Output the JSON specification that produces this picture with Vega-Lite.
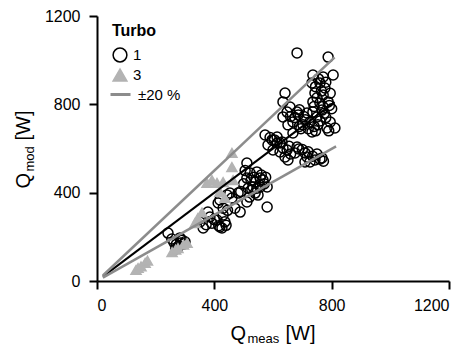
{
  "$schema": "https://vega.github.io/schema/vega-lite/v6.json",
  "width": 352,
  "height": 265,
  "autosize": {"type": "none"},
  "padding": {"left": 97, "top": 16, "right": 20, "bottom": 67},
  "background": "white",
  "config": {
    "view": {"stroke": null},
    "font": "Liberation Sans",
    "axis": {
      "grid": false,
      "domainColor": "black",
      "domainWidth": 2,
      "tickColor": "black",
      "tickWidth": 2,
      "tickSize": 8,
      "labelFont": "Liberation Sans",
      "labelFontSize": 16,
      "labelColor": "black",
      "titleFont": "Liberation Sans",
      "titleColor": "black",
      "titleFontWeight": "normal"
    },
    "legend": {
      "padding": 0,
      "labelFont": "Liberation Sans",
      "labelFontSize": 15,
      "labelColor": "black",
      "titleFont": "Liberation Sans",
      "titleColor": "black"
    }
  },
  "datasets": {
    "obs": [
      {"Turbo": "1", "Qmeas": 242, "Qmod": 217}, {"Turbo": "1", "Qmeas": 255, "Qmod": 190}, {"Turbo": "1", "Qmeas": 262, "Qmod": 175},
      {"Turbo": "1", "Qmeas": 270, "Qmod": 165}, {"Turbo": "1", "Qmeas": 275, "Qmod": 150}, {"Turbo": "1", "Qmeas": 280, "Qmod": 160},
      {"Turbo": "1", "Qmeas": 285, "Qmod": 172}, {"Turbo": "1", "Qmeas": 290, "Qmod": 185}, {"Turbo": "1", "Qmeas": 296, "Qmod": 168},
      {"Turbo": "1", "Qmeas": 268, "Qmod": 145}, {"Turbo": "1", "Qmeas": 283, "Qmod": 195}, {"Turbo": "1", "Qmeas": 300, "Qmod": 178},
      {"Turbo": "1", "Qmeas": 351, "Qmod": 267}, {"Turbo": "1", "Qmeas": 362, "Qmod": 240}, {"Turbo": "1", "Qmeas": 372, "Qmod": 255},
      {"Turbo": "1", "Qmeas": 378, "Qmod": 312}, {"Turbo": "1", "Qmeas": 385, "Qmod": 290}, {"Turbo": "1", "Qmeas": 392, "Qmod": 262},
      {"Turbo": "1", "Qmeas": 400, "Qmod": 278}, {"Turbo": "1", "Qmeas": 409, "Qmod": 276}, {"Turbo": "1", "Qmeas": 415, "Qmod": 250},
      {"Turbo": "1", "Qmeas": 419, "Qmod": 245}, {"Turbo": "1", "Qmeas": 426, "Qmod": 240}, {"Turbo": "1", "Qmeas": 430, "Qmod": 299},
      {"Turbo": "1", "Qmeas": 436, "Qmod": 268}, {"Turbo": "1", "Qmeas": 440, "Qmod": 252}, {"Turbo": "1", "Qmeas": 419, "Qmod": 367},
      {"Turbo": "1", "Qmeas": 430, "Qmod": 330}, {"Turbo": "1", "Qmeas": 445, "Qmod": 320}, {"Turbo": "1", "Qmeas": 453, "Qmod": 398},
      {"Turbo": "1", "Qmeas": 460, "Qmod": 376}, {"Turbo": "1", "Qmeas": 413, "Qmod": 353}, {"Turbo": "1", "Qmeas": 443, "Qmod": 390},
      {"Turbo": "1", "Qmeas": 470, "Qmod": 330},
      {"Turbo": "1", "Qmeas": 481, "Qmod": 398}, {"Turbo": "1", "Qmeas": 488, "Qmod": 312}, {"Turbo": "1", "Qmeas": 511, "Qmod": 358},
      {"Turbo": "1", "Qmeas": 539, "Qmod": 398}, {"Turbo": "1", "Qmeas": 556, "Qmod": 426}, {"Turbo": "1", "Qmeas": 580, "Qmod": 335},
      {"Turbo": "1", "Qmeas": 511, "Qmod": 534}, {"Turbo": "1", "Qmeas": 522, "Qmod": 489}, {"Turbo": "1", "Qmeas": 545, "Qmod": 494},
      {"Turbo": "1", "Qmeas": 556, "Qmod": 466}, {"Turbo": "1", "Qmeas": 539, "Qmod": 448}, {"Turbo": "1", "Qmeas": 566, "Qmod": 457},
      {"Turbo": "1", "Qmeas": 580, "Qmod": 426}, {"Turbo": "1", "Qmeas": 528, "Qmod": 412}, {"Turbo": "1", "Qmeas": 549, "Qmod": 389},
      {"Turbo": "1", "Qmeas": 532, "Qmod": 426}, {"Turbo": "1", "Qmeas": 511, "Qmod": 466}, {"Turbo": "1", "Qmeas": 500, "Qmod": 440},
      {"Turbo": "1", "Qmeas": 515, "Qmod": 420}, {"Turbo": "1", "Qmeas": 525, "Qmod": 455}, {"Turbo": "1", "Qmeas": 560, "Qmod": 480},
      {"Turbo": "1", "Qmeas": 570, "Qmod": 440}, {"Turbo": "1", "Qmeas": 505, "Qmod": 500}, {"Turbo": "1", "Qmeas": 535, "Qmod": 470},
      {"Turbo": "1", "Qmeas": 545, "Qmod": 420}, {"Turbo": "1", "Qmeas": 520, "Qmod": 380}, {"Turbo": "1", "Qmeas": 490, "Qmod": 405},
      {"Turbo": "1", "Qmeas": 575, "Qmod": 470},
      {"Turbo": "1", "Qmeas": 573, "Qmod": 661}, {"Turbo": "1", "Qmeas": 583, "Qmod": 616}, {"Turbo": "1", "Qmeas": 597, "Qmod": 639},
      {"Turbo": "1", "Qmeas": 600, "Qmod": 593}, {"Turbo": "1", "Qmeas": 614, "Qmod": 625}, {"Turbo": "1", "Qmeas": 614, "Qmod": 652},
      {"Turbo": "1", "Qmeas": 624, "Qmod": 584}, {"Turbo": "1", "Qmeas": 631, "Qmod": 630}, {"Turbo": "1", "Qmeas": 634, "Qmod": 602},
      {"Turbo": "1", "Qmeas": 641, "Qmod": 562}, {"Turbo": "1", "Qmeas": 648, "Qmod": 593}, {"Turbo": "1", "Qmeas": 651, "Qmod": 548},
      {"Turbo": "1", "Qmeas": 605, "Qmod": 639}, {"Turbo": "1", "Qmeas": 624, "Qmod": 625}, {"Turbo": "1", "Qmeas": 590, "Qmod": 650},
      {"Turbo": "1", "Qmeas": 660, "Qmod": 575}, {"Turbo": "1", "Qmeas": 668, "Qmod": 670}, {"Turbo": "1", "Qmeas": 675, "Qmod": 580},
      {"Turbo": "1", "Qmeas": 682, "Qmod": 607}, {"Turbo": "1", "Qmeas": 688, "Qmod": 598}, {"Turbo": "1", "Qmeas": 655, "Qmod": 610},
      {"Turbo": "1", "Qmeas": 634, "Qmod": 743}, {"Turbo": "1", "Qmeas": 634, "Qmod": 811}, {"Turbo": "1", "Qmeas": 641, "Qmod": 851},
      {"Turbo": "1", "Qmeas": 648, "Qmod": 765}, {"Turbo": "1", "Qmeas": 651, "Qmod": 707}, {"Turbo": "1", "Qmeas": 658, "Qmod": 788},
      {"Turbo": "1", "Qmeas": 668, "Qmod": 720}, {"Turbo": "1", "Qmeas": 675, "Qmod": 740}, {"Turbo": "1", "Qmeas": 682, "Qmod": 765},
      {"Turbo": "1", "Qmeas": 686, "Qmod": 752}, {"Turbo": "1", "Qmeas": 690, "Qmod": 700}, {"Turbo": "1", "Qmeas": 702, "Qmod": 707},
      {"Turbo": "1", "Qmeas": 710, "Qmod": 730}, {"Turbo": "1", "Qmeas": 716, "Qmod": 761}, {"Turbo": "1", "Qmeas": 720, "Qmod": 690},
      {"Turbo": "1", "Qmeas": 726, "Qmod": 720}, {"Turbo": "1", "Qmeas": 733, "Qmod": 675}, {"Turbo": "1", "Qmeas": 736, "Qmod": 765},
      {"Turbo": "1", "Qmeas": 740, "Qmod": 700}, {"Turbo": "1", "Qmeas": 750, "Qmod": 743}, {"Turbo": "1", "Qmeas": 753, "Qmod": 707},
      {"Turbo": "1", "Qmeas": 760, "Qmod": 725}, {"Turbo": "1", "Qmeas": 767, "Qmod": 774}, {"Turbo": "1", "Qmeas": 695, "Qmod": 690},
      {"Turbo": "1", "Qmeas": 705, "Qmod": 745}, {"Turbo": "1", "Qmeas": 745, "Qmod": 680}, {"Turbo": "1", "Qmeas": 660, "Qmod": 745},
      {"Turbo": "1", "Qmeas": 690, "Qmod": 775},
      {"Turbo": "1", "Qmeas": 709, "Qmod": 580}, {"Turbo": "1", "Qmeas": 716, "Qmod": 562}, {"Turbo": "1", "Qmeas": 726, "Qmod": 539},
      {"Turbo": "1", "Qmeas": 743, "Qmod": 548}, {"Turbo": "1", "Qmeas": 760, "Qmod": 552}, {"Turbo": "1", "Qmeas": 767, "Qmod": 557},
      {"Turbo": "1", "Qmeas": 709, "Qmod": 539}, {"Turbo": "1", "Qmeas": 720, "Qmod": 585}, {"Turbo": "1", "Qmeas": 735, "Qmod": 565},
      {"Turbo": "1", "Qmeas": 750, "Qmod": 575}, {"Turbo": "1", "Qmeas": 700, "Qmod": 595}, {"Turbo": "1", "Qmeas": 772, "Qmod": 542},
      {"Turbo": "1", "Qmeas": 682, "Qmod": 1033}, {"Turbo": "1", "Qmeas": 788, "Qmod": 1014}, {"Turbo": "1", "Qmeas": 805, "Qmod": 933},
      {"Turbo": "1", "Qmeas": 736, "Qmod": 933}, {"Turbo": "1", "Qmeas": 771, "Qmod": 924}, {"Turbo": "1", "Qmeas": 733, "Qmod": 897},
      {"Turbo": "1", "Qmeas": 760, "Qmod": 897}, {"Turbo": "1", "Qmeas": 777, "Qmod": 874}, {"Turbo": "1", "Qmeas": 743, "Qmod": 851},
      {"Turbo": "1", "Qmeas": 771, "Qmod": 842}, {"Turbo": "1", "Qmeas": 736, "Qmod": 811}, {"Turbo": "1", "Qmeas": 760, "Qmod": 806},
      {"Turbo": "1", "Qmeas": 788, "Qmod": 811}, {"Turbo": "1", "Qmeas": 792, "Qmod": 795}, {"Turbo": "1", "Qmeas": 750, "Qmod": 830},
      {"Turbo": "1", "Qmeas": 765, "Qmod": 860}, {"Turbo": "1", "Qmeas": 745, "Qmod": 880}, {"Turbo": "1", "Qmeas": 780, "Qmod": 900},
      {"Turbo": "1", "Qmeas": 755, "Qmod": 915}, {"Turbo": "1", "Qmeas": 795, "Qmod": 850}, {"Turbo": "1", "Qmeas": 770, "Qmod": 790},
      {"Turbo": "1", "Qmeas": 740, "Qmod": 790}, {"Turbo": "1", "Qmeas": 800, "Qmod": 780},
      {"Turbo": "1", "Qmeas": 784, "Qmod": 693}, {"Turbo": "1", "Qmeas": 811, "Qmod": 693}, {"Turbo": "1", "Qmeas": 795, "Qmod": 720},
      {"Turbo": "1", "Qmeas": 780, "Qmod": 740}, {"Turbo": "1", "Qmeas": 775, "Qmod": 760}, {"Turbo": "1", "Qmeas": 790, "Qmod": 680},
      {"Turbo": "3", "Qmeas": 133, "Qmod": 50}, {"Turbo": "3", "Qmeas": 140, "Qmod": 59}, {"Turbo": "3", "Qmeas": 150, "Qmod": 66},
      {"Turbo": "3", "Qmeas": 164, "Qmod": 82}, {"Turbo": "3", "Qmeas": 172, "Qmod": 92}, {"Turbo": "3", "Qmeas": 256, "Qmod": 131},
      {"Turbo": "3", "Qmeas": 268, "Qmod": 142}, {"Turbo": "3", "Qmeas": 276, "Qmod": 149}, {"Turbo": "3", "Qmeas": 295, "Qmod": 165},
      {"Turbo": "3", "Qmeas": 307, "Qmod": 172}, {"Turbo": "3", "Qmeas": 334, "Qmod": 262}, {"Turbo": "3", "Qmeas": 344, "Qmod": 285},
      {"Turbo": "3", "Qmeas": 358, "Qmod": 310}, {"Turbo": "3", "Qmeas": 375, "Qmod": 444}, {"Turbo": "3", "Qmeas": 392, "Qmod": 457},
      {"Turbo": "3", "Qmeas": 409, "Qmod": 444}, {"Turbo": "3", "Qmeas": 430, "Qmod": 448}, {"Turbo": "3", "Qmeas": 464, "Qmod": 457},
      {"Turbo": "3", "Qmeas": 419, "Qmod": 403}, {"Turbo": "3", "Qmeas": 436, "Qmod": 376}, {"Turbo": "3", "Qmeas": 460, "Qmod": 516},
      {"Turbo": "3", "Qmeas": 460, "Qmod": 580}
    ],
    "refs": [
      {"line": "1:1", "group": "1:1", "Qmeas": 20, "Qmod": 20}, {"line": "1:1", "group": "1:1", "Qmeas": 810, "Qmod": 810},
      {"line": "+20 %", "group": "±20 %", "Qmeas": 20, "Qmod": 25}, {"line": "+20 %", "group": "±20 %", "Qmeas": 810, "Qmod": 1013},
      {"line": "-20 %", "group": "±20 %", "Qmeas": 20, "Qmod": 15}, {"line": "-20 %", "group": "±20 %", "Qmeas": 815, "Qmod": 610}
    ]
  },
  "layer": [
    {
      "data": {"name": "obs"},
      "mark": {"type": "point", "size": 100, "strokeWidth": 1.5, "opacity": 1},
      "encoding": {
        "x": {
          "field": "Qmeas", "type": "quantitative",
          "scale": {"domain": [0, 1200], "nice": false},
          "axis": {"orient": "bottom", "values": [0, 400, 800, 1200], "format": "d", "labelPadding": 8,
                   "title": "Q", "titleFontSize": 20, "titleX": 133, "titleY": 58,
                   "titleAlign": "left", "titleBaseline": "alphabetic"}
        },
        "y": {
          "field": "Qmod", "type": "quantitative",
          "scale": {"domain": [0, 1200], "nice": false},
          "axis": {"orient": "left", "values": [0, 400, 800, 1200], "format": "d", "labelPadding": 9,
                   "title": "Q", "titleFontSize": 20, "titleX": -68, "titleY": 172, "titleAngle": 270,
                   "titleAlign": "left", "titleBaseline": "alphabetic"}
        },
        "shape": {
          "field": "Turbo", "type": "nominal",
          "scale": {"domain": ["1", "3"], "range": ["circle", "triangle-up"]},
          "legend": {
            "title": "\u00a0\u00a0Turbo", "orient": "none", "legendX": 15, "legendY": 7,
            "titleFontSize": 16, "titleFontWeight": "bold", "titlePadding": 8,
            "labelOffset": 5,
            "rowPadding": 1, "symbolSize": 190, "symbolStrokeWidth": 1.5
          }
        },
        "fill": {
          "field": "Turbo", "type": "nominal",
          "scale": {"domain": ["1", "3"], "range": ["transparent", "#b3b3b3"]}
        },
        "stroke": {
          "field": "Turbo", "type": "nominal",
          "scale": {"domain": ["1", "3"], "range": ["black", "#b3b3b3"]}
        }
      }
    },
    {
      "data": {"name": "refs"},
      "transform": [{"filter": "datum.line === '1:1'"}],
      "mark": {"type": "line", "color": "black", "strokeWidth": 2},
      "encoding": {
        "x": {
          "field": "Qmeas", "type": "quantitative",
          "scale": {"domain": [0, 1200], "nice": false},
          "axis": {"orient": "bottom", "labels": false, "ticks": false, "domain": false,
                   "title": "meas", "titleFontSize": 13, "titleX": 150, "titleY": 61,
                   "titleAlign": "left", "titleBaseline": "alphabetic"}
        },
        "y": {
          "field": "Qmod", "type": "quantitative",
          "scale": {"domain": [0, 1200], "nice": false},
          "axis": {"orient": "left", "labels": false, "ticks": false, "domain": false,
                   "title": "mod", "titleFontSize": 13, "titleX": -64, "titleY": 155, "titleAngle": 270,
                   "titleAlign": "left", "titleBaseline": "alphabetic"}
        }
      }
    },
    {
      "data": {"name": "refs"},
      "transform": [{"filter": "datum.line !== '1:1'"}],
      "mark": {"type": "line", "strokeWidth": 2.5},
      "encoding": {
        "x": {
          "field": "Qmeas", "type": "quantitative",
          "scale": {"domain": [0, 1200], "nice": false},
          "axis": {"orient": "bottom", "labels": false, "ticks": false, "domain": false,
                   "title": "[W]", "titleFontSize": 20, "titleX": 188, "titleY": 58,
                   "titleAlign": "left", "titleBaseline": "alphabetic"}
        },
        "y": {
          "field": "Qmod", "type": "quantitative",
          "scale": {"domain": [0, 1200], "nice": false},
          "axis": {"orient": "left", "labels": false, "ticks": false, "domain": false,
                   "title": "[W]", "titleFontSize": 20, "titleX": -68, "titleY": 124, "titleAngle": 270,
                   "titleAlign": "left", "titleBaseline": "alphabetic"}
        },
        "color": {
          "field": "group", "type": "nominal",
          "scale": {"domain": ["±20 %"], "range": ["#8c8c8c"]},
          "legend": {
            "title": null, "orient": "none", "legendX": 12, "legendY": 67,
            "symbolType": "stroke", "symbolSize": 400, "symbolStrokeWidth": 3,
            "labelOffset": 6
          }
        },
        "detail": {"field": "line", "type": "nominal"}
      }
    }
  ],
  "resolve": {"axis": {"x": "independent", "y": "independent"}}
}
